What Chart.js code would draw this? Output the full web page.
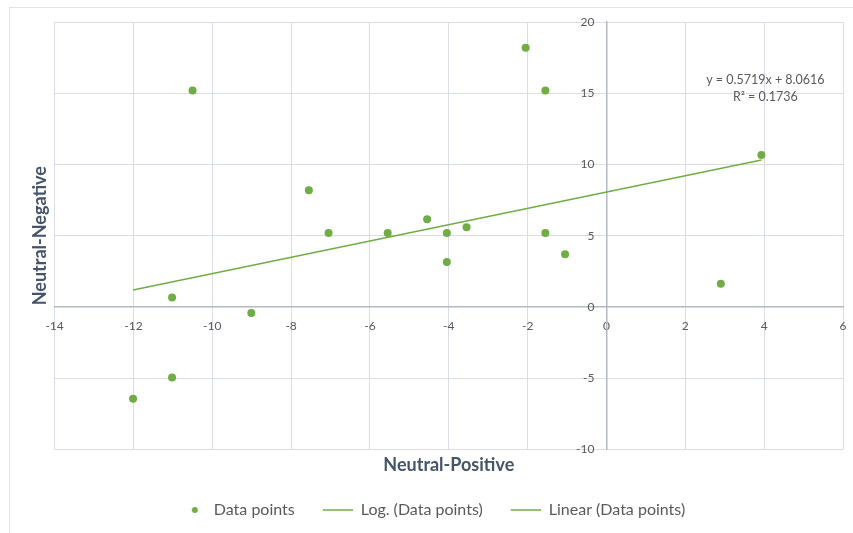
<!DOCTYPE html>
<html>
<head>
<meta charset="utf-8">
<script src="https://cdn.jsdelivr.net/npm/chart.js@4"></script>
<style>
  html, body { margin: 0; padding: 0; background: #fff; overflow: hidden; }
  #frame {
    position: absolute; left: 9px; top: 7px; width: 900px; height: 600px;
    border-left: 1px solid #e0e3e8; border-top: 1px solid #e0e3e8;
  }
  #chart { position: absolute; left: 10px; top: 8px; }
</style>
</head>
<body>
<div id="frame"></div>
<canvas id="chart" width="843" height="525"></canvas>
<script>
// values
const xValues = [-10.5, -2.05, -1.55, -7.55, -7.05, -5.55, -4.55, -4.05, -4.05, -3.55, -1.55, -1.05, 3.93, 2.9, -11.02, -9.01, -11.02, -12.01]
const yValues = [15.19, 18.2, 15.19, 8.19, 5.19, 5.19, 6.16, 5.19, 3.16, 5.6, 5.19, 3.7, 10.67, 1.63, 0.66, -0.42, -4.95, -6.45]
const xTicks = { min: -14, max: 6, step: 2 }
const yTicks = { min: -10, max: 20, step: 5 }
const trendSlope = 0.5719
const trendIntercept = 8.0616
const trendText = ['y = 0.5719x + 8.0616', 'R\u00b2 = 0.1736']
const legendNames = ['Data points', 'Log. (Data points)', 'Linear (Data points)']

const green = '#70AD47'
const gridColor = '#dadde3'
const axisColor = '#b3b8c3'
const tickColor = '#595959'
const titleColor = '#44546A'

Chart.defaults.font.family = 'Lato'

let points = xValues.map((x, i) => ({ x: x, y: yValues[i] }))
let minX = Math.min(...xValues)
let maxX = Math.max(...xValues)
let trendPoints = [
    { x: minX, y: trendSlope * minX + trendIntercept },
    { x: maxX, y: trendSlope * maxX + trendIntercept }
]

function legendIcon(kind) {
    let c = document.createElement('canvas')
    c.width = 38
    c.height = 12
    let g = c.getContext('2d')
    g.fillStyle = green
    g.strokeStyle = green
    if (kind === 'dot') {
        g.beginPath()
        g.arc(27, 6, 3, 0, Math.PI * 2)
        g.fill()
    } else {
        g.lineWidth = 1.5
        g.beginPath()
        g.moveTo(8, 6)
        g.lineTo(38, 6)
        g.stroke()
    }
    return c
}
const icons = [legendIcon('dot'), legendIcon('line'), legendIcon('line')]

const trendLabel = {
    id: 'trendLabel',
    afterDatasetsDraw(chart) {
        let ctx = chart.ctx
        let sx = chart.scales.x
        let sy = chart.scales.y
        let cx = sx.getPixelForValue(4.03)
        let cy = sy.getPixelForValue(15.93)
        ctx.save()
        ctx.font = '12.5px Lato'
        ctx.fillStyle = tickColor
        ctx.textAlign = 'center'
        ctx.textBaseline = 'middle'
        ctx.fillText(trendText[0], cx, cy)
        ctx.fillText(trendText[1], cx, cy + 17)
        ctx.restore()
    }
}

new Chart(document.getElementById('chart'), {
    type: 'scatter',
    data: {
        datasets: [
            {
                label: legendNames[0],
                data: points,
                backgroundColor: green,
                borderColor: green,
                borderWidth: 0,
                pointRadius: 4,
                pointHoverRadius: 4,
                xAxisID: 'x',
                yAxisID: 'y'
            },
            {
                type: 'line',
                label: legendNames[1],
                data: [],
                borderColor: green,
                borderWidth: 1.5,
                pointRadius: 0,
                xAxisID: 'x',
                yAxisID: 'y'
            },
            {
                type: 'line',
                label: legendNames[2],
                data: trendPoints,
                borderColor: green,
                borderWidth: 1.5,
                pointRadius: 0,
                fill: false,
                xAxisID: 'x',
                yAxisID: 'y'
            }
        ]
    },
    options: {
        responsive: false,
        animation: false,
        layout: { padding: { top: 14, right: 10, left: 0, bottom: 5 } },
        plugins: {
            tooltip: { enabled: false },
            legend: {
                position: 'bottom',
                labels: {
                    usePointStyle: true,
                    pointStyleWidth: 38,
                    padding: 20,
                    color: tickColor,
                    font: { size: 16 },
                    generateLabels: function (chart) {
                        return chart.data.datasets.map((ds, i) => ({
                            text: ds.label,
                            pointStyle: icons[i],
                            fillStyle: green,
                            strokeStyle: green,
                            lineWidth: 0,
                            hidden: false,
                            datasetIndex: i,
                            fontColor: tickColor
                        }))
                    }
                }
            }
        },
        scales: {
            x: {
                type: 'linear',
                axis: 'x',
                position: { y: 0 },
                min: xTicks.min,
                max: xTicks.max,
                ticks: { stepSize: xTicks.step, color: tickColor, font: { size: 12 }, padding: 0 },
                grid: { color: gridColor, drawTicks: true, tickLength: 12, tickColor: 'rgba(0,0,0,0)' },
                border: { display: true, color: axisColor, width: 1.5 }
            },
            y: {
                type: 'linear',
                axis: 'y',
                position: { x: 0 },
                min: yTicks.min,
                max: yTicks.max,
                ticks: {
                    stepSize: yTicks.step, color: tickColor, font: { size: 12 }, padding: 0,
                    // labels sit left of the zero line, keep a gap like the original
                    callback: function (v) { return v + '\u2002\u2002' }
                },
                grid: { color: gridColor, drawTicks: true, tickLength: 13, tickColor: 'rgba(0,0,0,0)' },
                border: { display: true, color: axisColor, width: 1.5 }
            },
            x2: {
                type: 'linear',
                axis: 'x',
                position: 'bottom',
                min: xTicks.min,
                max: xTicks.max,
                ticks: { display: false },
                grid: { display: false, drawTicks: false },
                border: { display: false },
                title: {
                    display: true,
                    text: 'Neutral-Positive',
                    color: titleColor,
                    font: { size: 18, weight: 'bold' },
                    padding: { top: 5, bottom: 6 }
                }
            },
            y2: {
                type: 'linear',
                axis: 'y',
                position: 'left',
                min: yTicks.min,
                max: yTicks.max,
                ticks: { display: false },
                grid: { display: false, drawTicks: false },
                border: { display: false },
                title: {
                    display: true,
                    text: 'Neutral-Negative',
                    color: titleColor,
                    font: { size: 18, weight: 'bold' },
                    padding: { top: 19, bottom: 4 }
                }
            }
        }
    },
    plugins: [trendLabel]
})
</script>
</body>
</html>
